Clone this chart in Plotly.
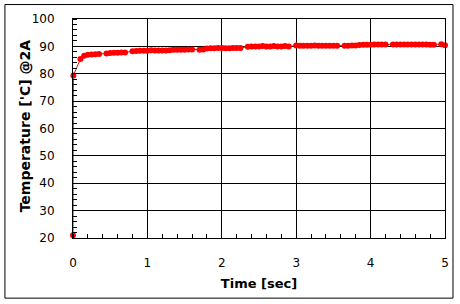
import plotly.graph_objects as go

time_sec = [0.0, 0.005, 0.1, 0.15, 0.2, 0.25, 0.3, 0.35, 0.45, 0.5, 0.55, 0.6, 0.65, 0.7,
            0.8, 0.85, 0.9, 0.95, 1.0, 1.05, 1.1, 1.15, 1.2, 1.25, 1.3, 1.35, 1.4, 1.45,
            1.5, 1.55, 1.6, 1.7, 1.75, 1.8, 1.85, 1.9, 1.95, 2.0, 2.05, 2.1, 2.15, 2.2,
            2.25, 2.35, 2.4, 2.45, 2.5, 2.55, 2.6, 2.65, 2.7, 2.75, 2.8, 2.85, 2.9, 3.0,
            3.05, 3.1, 3.15, 3.2, 3.25, 3.3, 3.35, 3.4, 3.45, 3.5, 3.55, 3.65, 3.7, 3.75,
            3.8, 3.85, 3.9, 3.95, 4.0, 4.05, 4.1, 4.15, 4.2, 4.3, 4.35, 4.4, 4.45, 4.5,
            4.55, 4.6, 4.65, 4.7, 4.75, 4.8, 4.85, 4.95, 5.0]
temp_c = [21.0, 79.4, 85.4, 86.6, 86.9, 87.0, 87.1, 87.2, 87.4, 87.6, 87.7, 87.7, 87.8, 87.8,
          88.2, 88.3, 88.4, 88.4, 88.4, 88.6, 88.5, 88.5, 88.5, 88.5, 88.6, 88.8, 88.8, 88.8,
          88.8, 88.9, 88.9, 88.8, 88.9, 89.2, 89.3, 89.3, 89.4, 89.4, 89.3, 89.3, 89.4, 89.4,
          89.4, 89.9, 90.0, 90.0, 90.0, 90.1, 90.0, 90.0, 90.1, 90.0, 90.0, 90.1, 90.0, 90.3,
          90.2, 90.2, 90.2, 90.2, 90.3, 90.2, 90.2, 90.2, 90.2, 90.2, 90.2, 90.2, 90.2, 90.3,
          90.3, 90.5, 90.6, 90.6, 90.6, 90.7, 90.7, 90.7, 90.7, 90.7, 90.7, 90.7, 90.7, 90.7,
          90.7, 90.7, 90.7, 90.7, 90.7, 90.6, 90.6, 90.8, 90.4]

x_tick_vals = [0, 1, 2, 3, 4, 5]
y_tick_vals = [20, 30, 40, 50, 60, 70, 80, 90, 100]

fig = go.Figure()
fig.add_trace(go.Scatter(
    x=time_sec, y=temp_c, mode="lines+markers",
    line=dict(color="#FF0000", width=1),
    marker=dict(color="#FF0000", size=6, symbol="circle"),
    showlegend=False, cliponaxis=False,
))

font = "DejaVu Sans"
fig.update_layout(
    width=460, height=304,
    margin=dict(l=73, r=15, t=19, b=66, pad=0),
    paper_bgcolor="white", plot_bgcolor="white",
    font=dict(family=font, size=12, color="#000000"),
    xaxis=dict(
        range=[0, 5], tickvals=x_tick_vals, showgrid=True, gridcolor="#000000", gridwidth=1,
        showline=True, linecolor="#000000", linewidth=1, mirror=True,
        ticks="", zeroline=False, ticklabelstandoff=14,
        tickfont=dict(family=font, size=12),
        minor=dict(dtick=0.2, ticks="inside", ticklen=4, tickcolor="#000000", showgrid=False),
        title=dict(text="<b>Time [sec]</b>", font=dict(family=font, size=13), standoff=9),
    ),
    yaxis=dict(
        range=[20, 100], tickvals=y_tick_vals, showgrid=True, gridcolor="#000000", gridwidth=1,
        showline=True, linecolor="#000000", linewidth=1, mirror=True,
        ticks="", zeroline=False, ticklabelstandoff=15,
        tickfont=dict(family=font, size=12),
        minor=dict(dtick=2, ticks="inside", ticklen=4, tickcolor="#000000", showgrid=False),
    ),
    annotations=[dict(text="<b>Temperature ['C] @2A</b>", xref="paper", yref="paper",
                      x=-0.129, y=0.51, textangle=-90, showarrow=False,
                      xanchor="center", yanchor="middle",
                      font=dict(family=font, size=14, color="#000000"))],
    shapes=[dict(type="rect", xref="paper", yref="paper",
                 x0=-0.183, x1=1.0215, y0=-0.2746, y1=1.066,
                 line=dict(color="#000000", width=1), fillcolor="rgba(0,0,0,0)", layer="above")],
)

fig.write_html("out.html")
